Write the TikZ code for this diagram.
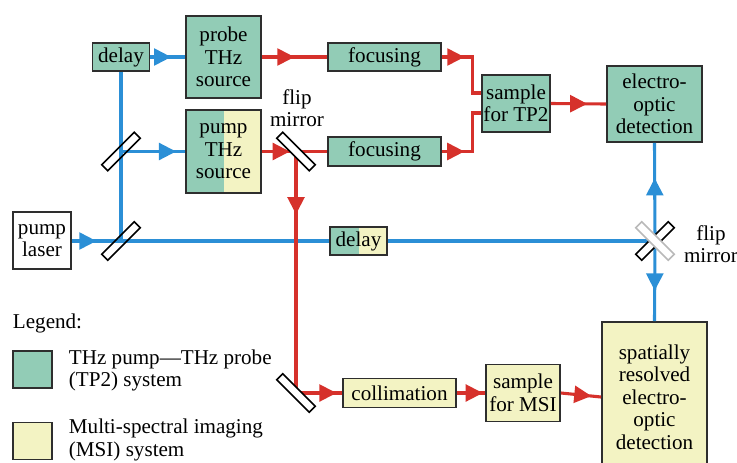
\documentclass[tikz,border=0pt]{standalone}
\usepackage{fontspec}
\setmainfont{Liberation Serif}
\usepackage{xcolor}
\usepackage{tikz}
\usetikzlibrary{positioning, arrows.meta, decorations.markings}
\definecolor{tpgreen}{HTML}{92CCB6}
\definecolor{msiyellow}{HTML}{F3F3C3}
\definecolor{beamblue}{HTML}{2B8FD6}
\definecolor{beamred}{HTML}{D6312B}
\definecolor{boxline}{HTML}{2E2E2E}

\begin{document}
\begin{tikzpicture}[
    x=0.025cm, y=-0.025cm,
    txt/.style={font=\rmfamily\fontsize{15}{16}\selectfont, align=center},
    box/.style={rectangle, draw=boxline, line width=1.3pt, inner sep=1pt, txt},
    tpbox/.style={box, fill=tpgreen},
    msibox/.style={box, fill=msiyellow},
    splitbox/.style={box, fill=tpgreen,
                     path picture={\fill[msiyellow] (path picture bounding box.north)
                                   rectangle (path picture bounding box.south east);}},
    mirror/.style={rectangle, draw, line width=1.1pt, fill=white,
                   minimum width=1.15cm, minimum height=0.21cm, inner sep=0pt},
    bluebeam/.style={draw=beamblue, line width=2.2pt},
    redbeam/.style={draw=beamred, line width=2.2pt},
    midarrow/.style={postaction={decorate},
                     decoration={markings, mark=at position #1 with
                       {\arrow{Triangle[length=0.43cm, width=0.42cm]}}}},
]
\useasboundingbox (0,0) rectangle (737,462);

% --- mirror positions ---
\coordinate (bsA) at (121,151.5);
\coordinate (bsB) at (121,241);
\coordinate (flipA) at (296,151.5);
\coordinate (turn) at (296,393);
\coordinate (flipB) at (655,241);

% --- THz pump / THz probe arm ---
\node[tpbox, minimum width=1.425cm, minimum height=0.7cm] (delayA) at (121,57) {delay};
\node[tpbox, minimum width=1.875cm, minimum height=2.05cm] (probe) at (223.5,57) {probe\\THz\\source};
\node[splitbox, minimum width=1.875cm, minimum height=2.075cm] (pump) at (223.5,151.5) {pump\\THz\\source};
\node[tpbox, minimum width=2.825cm, minimum height=0.7cm] (focA) at (384.5,57) {focusing};
\node[tpbox, minimum width=2.825cm, minimum height=0.72cm] (focB) at (384.5,151.5) {focusing};
\node[tpbox, minimum width=1.7cm, minimum height=1.425cm] (tpsam) at (516,103.5) {sample\\for TP2};
\node[tpbox, minimum width=2.375cm, minimum height=1.9cm] (eod) at (654.5,104) {electro-\\optic\\detection};

% --- laser and shared delay ---
\node[box, fill=white, minimum width=1.45cm, minimum height=1.425cm] (laser) at (42,240.5) {pump\\laser};
\node[splitbox, minimum width=1.425cm, minimum height=0.7cm] (delayB) at (358.5,241) {delay};

% --- multi-spectral imaging arm ---
\node[msibox, minimum width=2.825cm, minimum height=0.725cm] (colli) at (399.5,393) {collimation};
\node[msibox, minimum width=1.85cm, minimum height=1.425cm] (msisam) at (523,393) {sample\\for MSI};
\node[msibox, minimum width=2.625cm, minimum height=3.75cm] (spat) at (654.5,397) {spatially\\resolved\\electro-\\optic\\detection};

% ============== blue (optical) beams ==============
\draw[bluebeam, midarrow=0.5] (laser.east |- bsB) -- (bsB);
\draw[bluebeam] (bsB) -- (delayB.west);
\draw[bluebeam] (delayB.east) -- (flipB);
\draw[bluebeam] (bsB) -- (delayA.south);
\draw[bluebeam, midarrow=0.86] (bsA) -- (pump.west |- bsA);
\draw[bluebeam, midarrow=0.6] (delayA.east) -- (probe.west);
\draw[bluebeam, midarrow=0.64] (flipB) -- (eod.south);
\draw[bluebeam, midarrow=0.62] (flipB) -- (spat.north);

% ============== red (THz) beams ==============
\draw[redbeam, midarrow=0.5] (probe.east) -- (focA.west);
\draw[redbeam, midarrow=0.3] (focA.east) -- ++(31,0) |- (tpsam.west |- 0,93);
\draw[redbeam, midarrow=0.29] (focB.east) -- ++(31,0) |- (tpsam.west |- 0,113);
\draw[redbeam, midarrow=0.66] (tpsam.east) -- (eod.west);
\draw[redbeam, midarrow=0.82] (pump.east |- flipA) -- (flipA);
\draw[redbeam] (flipA) -- (focB.west);
\draw[redbeam, midarrow=0.26] (flipA) -- (turn);
\draw[redbeam, midarrow=0.88] (turn) -- (colli.west);
\draw[redbeam, midarrow=0.92] (colli.east) -- (msisam.west);
\draw[redbeam, midarrow=0.76] (msisam.east) -- (spat.west);

% ============== mirrors ==============
\node[mirror, fill=none, rotate=45] (bsAm) at (bsA) {};
\node[mirror, fill=none, rotate=45] (bsBm) at (bsB) {};
\node[mirror, rotate=-45] (flipAm) at (flipA) {};
\node[mirror, rotate=-45] (turnm) at (turn) {};
\node[mirror, rotate=45] (flipBm) at (flipB) {};
\node[mirror, draw=gray!55, rotate=-45] (flipBup) at (flipB) {};

\node[txt] (flipAlbl) at (297,108) {flip\\mirror};
\node[txt] (flipBlbl) at (711,244) {flip\\mirror};

% ============== legend ==============
\node[txt, anchor=west] (leg) at (8,323) {Legend:};
\node[tpbox, minimum width=0.975cm, minimum height=0.925cm] (legTP) at (32.5,369.5) {};
\node[msibox, minimum width=0.975cm, minimum height=0.925cm] (legMSI) at (32.5,441) {};
\node[txt, align=left, anchor=west] (legTPtxt) at (64,370.5) {THz pump—THz probe\\(TP2) system};
\node[txt, align=left, anchor=west] (legMSItxt) at (64,440) {Multi-spectral imaging\\(MSI) system};

\end{tikzpicture}
\end{document}
